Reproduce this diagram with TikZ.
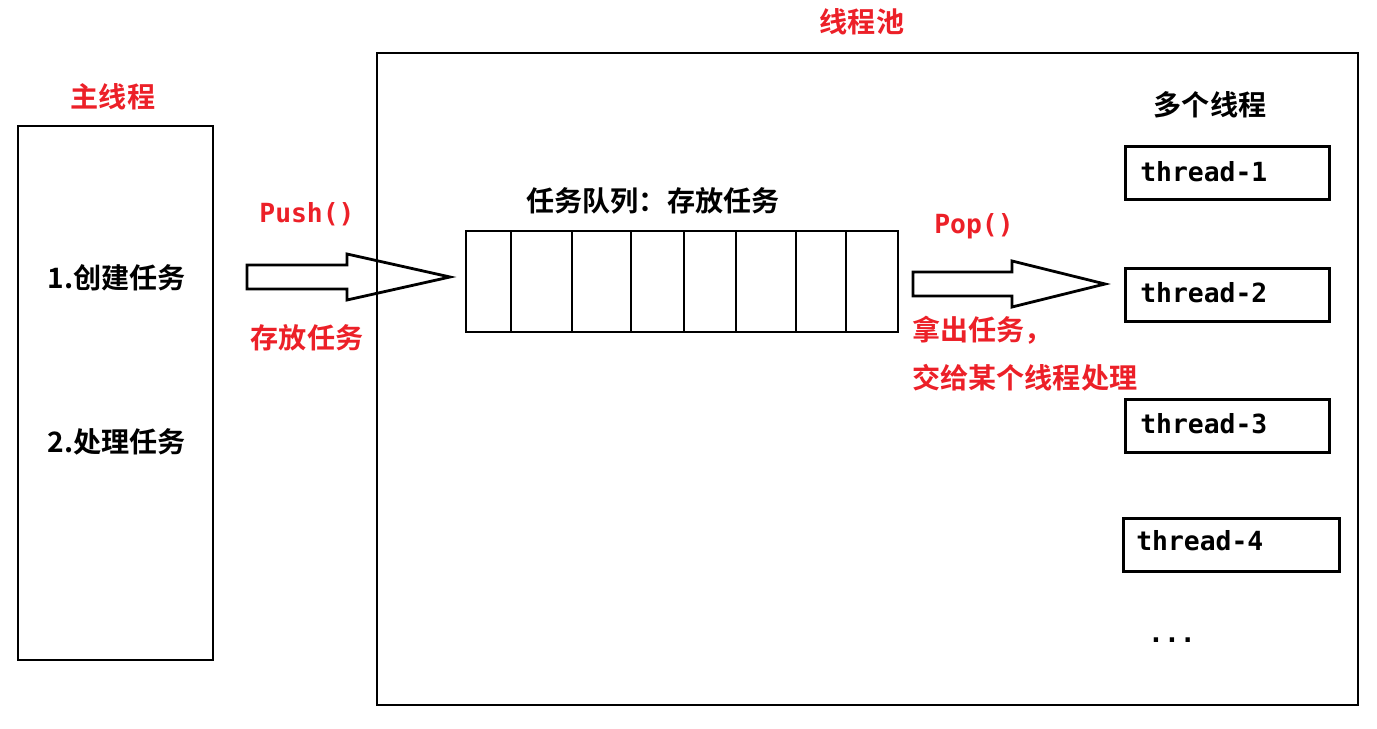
\documentclass[tikz,border=0pt]{standalone}
\usepackage{fontspec}
\setmainfont{Noto Sans CJK SC}[BoldFont={Noto Sans CJK SC Bold}]
\newfontfamily\codefont{DejaVu Sans Mono}
\usetikzlibrary{positioning}
\usetikzlibrary{calc}

\definecolor{labelred}{RGB}{236,32,40}

\tikzset{
  frame/.style={draw=black, line width=1.6pt},
  cjklabel/.style={font=\fontsize{16pt}{18pt}\selectfont\bfseries, inner sep=0pt},
  redlabel/.style={cjklabel, text=labelred},
  codelabel/.style={font=\fontsize{15pt}{18pt}\selectfont\codefont\bfseries, inner sep=0pt},
  threadbox/.style={frame, minimum height=1.06cm, anchor=north west}
}

\begin{document}
\begin{tikzpicture}[x=0.02cm, y=-0.02cm]

  % page size
  \useasboundingbox (0, 0) rectangle (1377, 729);

  % main thread
  \draw [frame] (18, 126) rectangle (213, 660);
  \node at (113, 97) (mainTitle) [redlabel] {主线程};
  \node at (117, 278) (create) [cjklabel] {1.创建任务};
  \node at (117, 442) (handle) [cjklabel] {2.处理任务};

  % thread pool
  \draw [frame] (377, 53) rectangle (1358, 705);
  \node at (862, 22) (poolTitle) [redlabel] {线程池};

  % push arrow
  \draw [frame, line join=miter] (247, 265) -- (347, 265) -- (347, 254) -- (450, 277)
    -- (347, 300) -- (347, 289) -- (247, 289) -- cycle;
  \node at (307, 214) (push) [codelabel, text=labelred] {Push()};
  \node at (307, 338) (store) [redlabel] {存放任务};

  % task queue
  \node at (653, 201) (queueTitle) [cjklabel] {任务队列：存放任务};
  \draw [frame] (466, 231) rectangle (898, 332);
  \foreach \x in {511, 572, 631, 684, 736, 796, 846}
    \draw [frame] (\x, 231) -- (\x, 332);

  % pop arrow
  \draw [frame, line join=miter] (913, 272) -- (1012, 272) -- (1012, 261) -- (1105, 284)
    -- (1012, 307) -- (1012, 296) -- (913, 296) -- cycle;
  \node at (974, 226) (pop) [codelabel, text=labelred] {Pop()};
  \node at (912, 330) (take) [redlabel, anchor=west] {拿出任务，};
  \node at (912, 378) (give) [redlabel, anchor=west] {交给某个线程处理};

  % worker threads
  \node at (1210, 105) (threadsTitle) [cjklabel] {多个线程};
  \node at (1124, 145) (t1) [threadbox, minimum width=4.08cm] {};
  \node at (1124, 267) (t2) [threadbox, minimum width=4.08cm] {};
  \node at (1124, 398) (t3) [threadbox, minimum width=4.08cm] {};
  \node at (1122, 517) (t4) [threadbox, minimum width=4.32cm] {};
  \node at (1140, 172) [codelabel, anchor=west] {thread-1};
  \node at (1140, 293) [codelabel, anchor=west] {thread-2};
  \node at (1140, 424) [codelabel, anchor=west] {thread-3};
  \node at (1136, 541) [codelabel, anchor=west] {thread-4};
  \node at (1172, 640) (more) [codelabel] {...};

\end{tikzpicture}
\end{document}
